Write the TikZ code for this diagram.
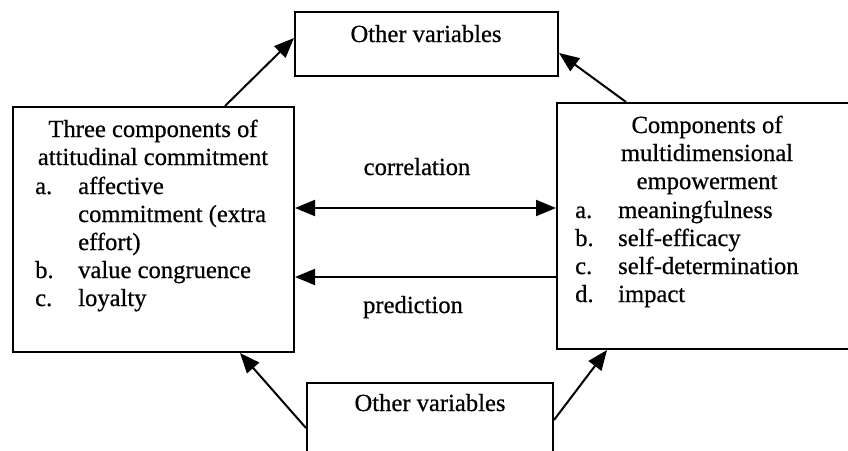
\documentclass[tikz,border=0pt]{standalone}
\usepackage{fontspec}
\setmainfont[FakeBold=0.6]{Liberation Serif}
\usetikzlibrary{arrows.meta}
\begin{document}
\begin{tikzpicture}[x=1pt,y=-1pt,
  box/.style={draw, line width=2pt, inner sep=0pt},
  txt/.style={font=\fontsize{24.6}{28}\selectfont, inner sep=0pt},
  arr/.style={line width=2pt, -{Triangle[length=20pt,width=16pt]}},
  darr/.style={line width=2pt, {Triangle[length=20pt,width=16pt]}-{Triangle[length=20pt,width=16pt]}}]
\useasboundingbox (0,0) rectangle (848,450);
\clip (0,0) rectangle (848,450);
% boxes
\node[box, minimum width=263pt, minimum height=64pt] (top) at (426.5,44) {};
\node[box, minimum width=281pt, minimum height=245pt] (left) at (153.5,229.5) {};
\node[box, minimum width=303pt, minimum height=246pt] (right) at (708.5,226) {};
\node[box, minimum width=246pt, minimum height=87pt] (bottom) at (430,426.5) {};
% box texts
\node[txt, anchor=base] (toptxt) at (426,42) {Other variables};
\node[txt, anchor=base] (bottxt) at (430,411) {Other variables};
% left box
\node[txt, anchor=base] (l1) at (153,137) {Three components of};
\node[txt, anchor=base] (l2) at (153,165) {attitudinal commitment};
\node[txt, anchor=base west] (la) at (35,194) {a.};
\node[txt, anchor=base west] (l3) at (78,194) {affective};
\node[txt, anchor=base west] (l4) at (78,222) {commitment (extra};
\node[txt, anchor=base west] (l5) at (78,250) {effort)};
\node[txt, anchor=base west] (lb) at (35,278) {b.};
\node[txt, anchor=base west] (l6) at (78,278) {value congruence};
\node[txt, anchor=base west] (lc) at (35,306) {c.};
\node[txt, anchor=base west] (l7) at (78,306) {loyalty};
% right box
\node[txt, anchor=base] (r1) at (707,133) {Components of};
\node[txt, anchor=base] (r2) at (707,161) {multidimensional};
\node[txt, anchor=base] (r3) at (707,189) {empowerment};
\node[txt, anchor=base west] (ra) at (575,218) {a.};
\node[txt, anchor=base west] (r4) at (618,218) {meaningfulness};
\node[txt, anchor=base west] (rb) at (575,246) {b.};
\node[txt, anchor=base west] (r5) at (618,246) {self-efficacy};
\node[txt, anchor=base west] (rc) at (575,274) {c.};
\node[txt, anchor=base west] (r6) at (618,274) {self-determination};
\node[txt, anchor=base west] (rd) at (575,302) {d.};
\node[txt, anchor=base west] (r7) at (618,302) {impact};
% middle labels
\node[txt, anchor=base] (corr) at (417,175) {correlation};
\node[txt, anchor=base] (pred) at (413,313) {prediction};
% connectors
\draw[arr] ([xshift=71.5pt]left.north) -- ([yshift=6pt]top.west);
\draw[arr] ([xshift=-82.5pt]right.north) -- ([yshift=-9pt]top.east);
\draw[darr] ([yshift=21.5pt]left.east) -- ([yshift=18pt]right.west);
\draw[arr] ([yshift=-51pt]right.west) -- ([yshift=-47.5pt]left.east);
\draw[arr] ([yshift=-1.5pt]bottom.west) -- ([xshift=86.5pt]left.south);
\draw[arr] ([yshift=6.5pt]bottom.east) -- ([xshift=-101.5pt]right.south);
\end{tikzpicture}
\end{document}
